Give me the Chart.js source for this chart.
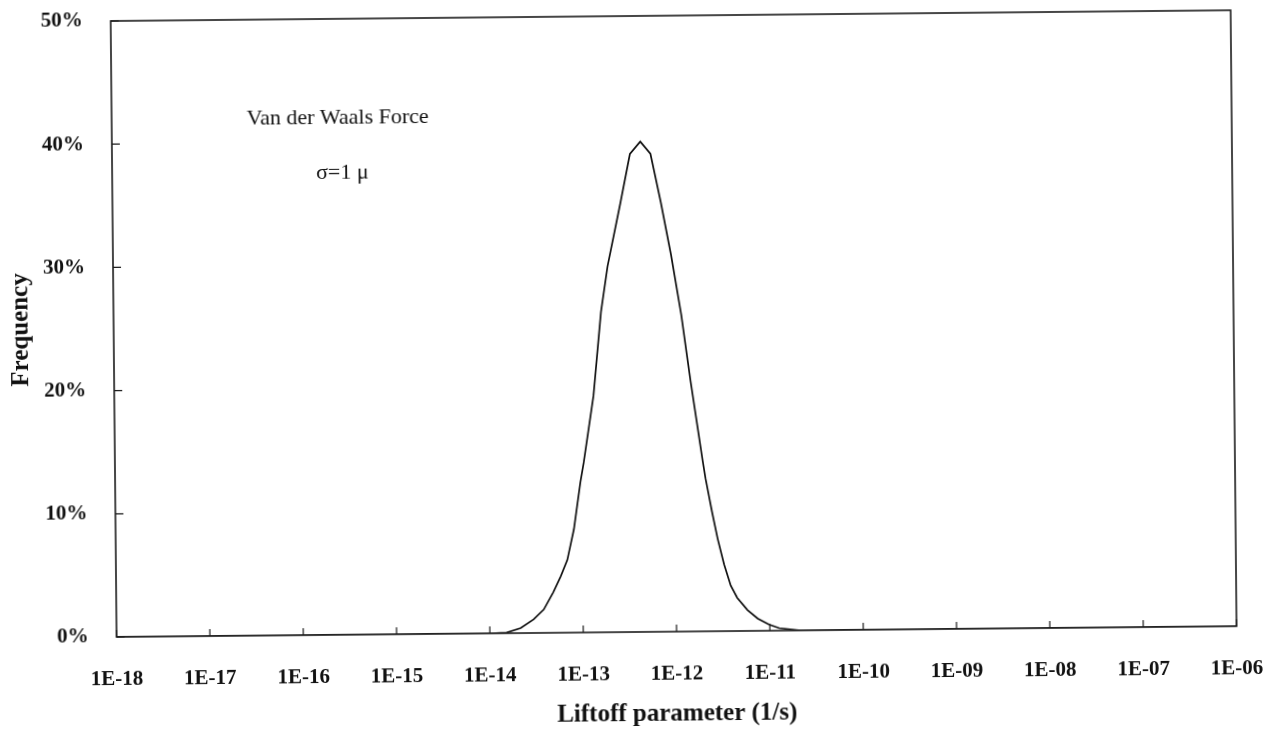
<!DOCTYPE html>
<html>
<head>
<meta charset="utf-8">
<script src="https://cdn.jsdelivr.net/npm/chart.js@4/dist/chart.umd.min.js"></script>
<style>
  html, body { margin: 0; padding: 0; background: #ffffff; overflow: hidden; }
  #wrap { position: relative; width: 1268px; height: 729px; }
  /* the reference is a slightly tilted scan */
  #c { transform: rotate(-0.55deg); transform-origin: 634px 364.5px; }
</style>
</head>
<body>
<div id="wrap"><canvas id="c" width="1268" height="729"></canvas></div>
<script>
// Liftoff parameter, read as log10 exponents (1/s)
const liftoffExponents = [-18, -14.0, -13.82, -13.67, -13.53, -13.42, -13.316, -13.234, -13.163, -13.089, -13.015, -12.977, -12.866, -12.777, -12.702, -12.556, -12.451, -12.339, -12.231, -12.126, -12.021, -11.917, -11.824, -11.702, -11.674, -11.608, -11.55, -11.483, -11.415, -11.347, -11.238, -11.129, -11.01, -10.90, -10.67, -6];
// Frequency in percent
const frequencyPct = [0, 0, 0.05, 0.4, 1.1, 1.9, 3.3, 4.6, 5.9, 8.4, 12.2, 13.8, 19.2, 26.0, 29.7, 34.9, 38.8, 39.8, 38.8, 34.9, 30.6, 25.7, 20.3, 13.8, 12.4, 9.7, 7.5, 5.4, 3.7, 2.7, 1.7, 1.0, 0.5, 0.2, 0, 0];
// Axis tick labels
const xTickValues = [1e-18, 1e-17, 1e-16, 1e-15, 1e-14, 1e-13, 1e-12, 1e-11, 1e-10, 1e-9, 1e-8, 1e-7, 1e-6];
const xTickLabels = ['1E-18', '1E-17', '1E-16', '1E-15', '1E-14', '1E-13', '1E-12', '1E-11', '1E-10', '1E-09', '1E-08', '1E-07', '1E-06'];
const yTickValues = [0, 10, 20, 30, 40, 50];
const yTickLabels = ['0%', '10%', '20%', '30%', '40%', '50%'];
const annotationLines = ['Van der Waals Force', 'σ=1 μ'];

const points = liftoffExponents.map((e, i) => ({ x: Math.pow(10, e), y: frequencyPct[i] }));

const SERIF = "'Liberation Serif', 'Times New Roman', serif";

const framePlugin = {
  id: 'frame',
  afterDatasetsDraw(chart) {
    const { ctx, chartArea: a, scales } = chart;
    ctx.save();
    ctx.strokeStyle = '#1a1a1a';
    ctx.lineWidth = 1.6;
    ctx.strokeRect(a.left, a.top, a.right - a.left, a.bottom - a.top);
    // inward tick marks
    ctx.lineWidth = 1.2;
    ctx.beginPath();
    xTickValues.forEach(v => {
      const px = scales.x.getPixelForValue(v);
      ctx.moveTo(px, a.bottom);
      ctx.lineTo(px, a.bottom - 7);
    });
    yTickValues.forEach(v => {
      const py = scales.y.getPixelForValue(v);
      ctx.moveTo(a.left, py);
      ctx.lineTo(a.left + 8, py);
    });
    ctx.stroke();
    // annotations
    ctx.fillStyle = '#111';
    ctx.font = "22px " + SERIF;
    ctx.textBaseline = 'middle';
    ctx.textAlign = 'left';
    ctx.fillText(annotationLines[0], 249, 115);
    ctx.fillText(annotationLines[1], 318, 170);
    ctx.restore();
  }
};

new Chart(document.getElementById('c'), {
  type: 'line',
  data: {
    datasets: [{
      label: 'Frequency',
      data: points,
      borderColor: '#111111',
      borderWidth: 1.7,
      pointRadius: 0,
      tension: 0,
      fill: false
    }]
  },
  options: {
    responsive: false,
    animation: false,
    layout: { padding: { top: 16, right: 34, bottom: 0, left: 0 } },
    plugins: { legend: { display: false }, tooltip: { enabled: false } },
    scales: {
      x: {
        type: 'logarithmic',
        min: 1e-18,
        max: 1e-6,
        afterBuildTicks(scale) { scale.ticks = xTickValues.map(v => ({ value: v })); },
        afterFit(scale) {
          scale.height = 97;
          scale.paddingLeft = 0; scale.paddingRight = 0;
          scale.paddingTop = 0; scale.paddingBottom = 0;
        },
        grid: { display: false, drawTicks: false },
        border: { display: false },
        ticks: {
          autoSkip: false,
          maxRotation: 0,
          padding: 30,
          color: '#111',
          font: { family: SERIF, size: 21, weight: 'bold' },
          callback(value) {
            const i = xTickValues.findIndex(v => Math.abs(Math.log10(v) - Math.log10(value)) < 1e-6);
            return i >= 0 ? xTickLabels[i] : '';
          }
        },
        title: {
          display: true,
          text: 'Liftoff parameter (1/s)',
          color: '#111',
          padding: { top: 0, bottom: 0 },
          font: { family: SERIF, size: 25, weight: 'bold', lineHeight: 1.12 }
        }
      },
      y: {
        min: 0,
        max: 50,
        afterBuildTicks(scale) { scale.ticks = yTickValues.map(v => ({ value: v })); },
        afterFit(scale) {
          scale.width = 114;
          scale.paddingLeft = 0; scale.paddingRight = 0;
          scale.paddingTop = 0; scale.paddingBottom = 0;
        },
        grid: { display: false, drawTicks: false },
        border: { display: false },
        ticks: {
          padding: 28,
          color: '#111',
          font: { family: SERIF, size: 21, weight: 'bold' },
          callback(value) {
            const i = yTickValues.indexOf(value);
            return i >= 0 ? yTickLabels[i] : '';
          }
        },
        title: {
          display: true,
          text: 'Frequency',
          color: '#111',
          padding: { top: 7, bottom: 0 },
          font: { family: SERIF, size: 25, weight: 'bold', lineHeight: 1.2 }
        }
      }
    }
  },
  plugins: [framePlugin]
});
</script>
</body>
</html>
